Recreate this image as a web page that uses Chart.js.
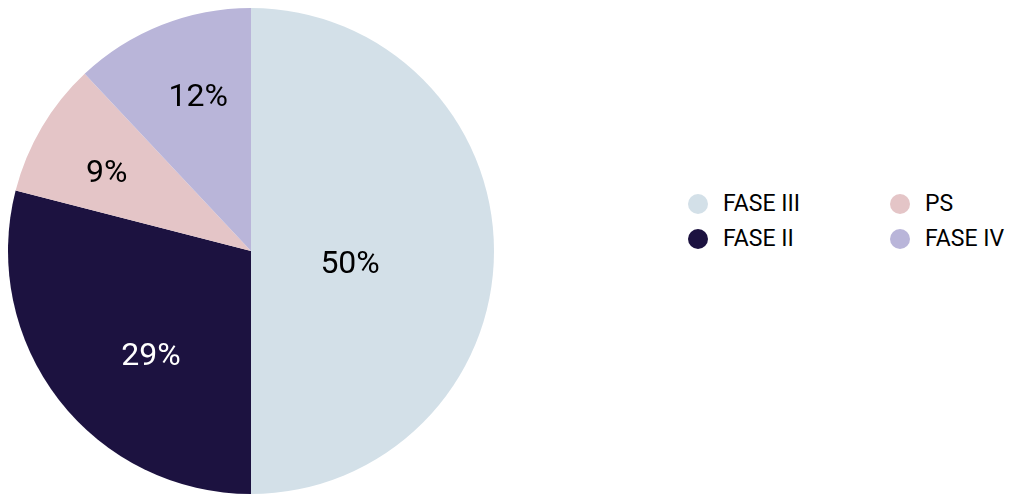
<!DOCTYPE html>
<html>
<head>
<meta charset="utf-8">
<script src="https://cdn.jsdelivr.net/npm/chart.js@4/dist/chart.umd.min.js"></script>
<style>
  html, body { margin: 0; padding: 0; background: #fff; overflow: hidden; width: 1011px; height: 495px; }
  #wrap { position: absolute; left: 0; top: 0; width: 502px; height: 502px; }
  #legend { position: absolute; left: 688px; top: 186px; display: grid; grid-template-columns: 202px 130px; grid-auto-flow: column; grid-template-rows: 35px 35px; font-family: Roboto, sans-serif; font-size: 23px; color: #000; }
  .item { display: flex; align-items: center; height: 35px; }
  .dot { width: 20px; height: 20px; border-radius: 50%; margin-right: 15px; flex: none; }
</style>
</head>
<body>
<div id="wrap"><canvas id="c"></canvas></div>
<div id="legend"></div>
<script>
const categories = ["FASE III", "FASE II", "PS", "FASE IV"];
const values = [50, 29, 9, 12];
const colors = ["#d3e0e8", "#1c1240", "#e4c5c7", "#b9b5d9"];
const labelColors = ["#000000", "#ffffff", "#000000", "#000000"];

const labelPlugin = {
  id: 'sliceLabels',
  afterDatasetsDraw(chart, args, opts) {
    const ctx = chart.ctx;
    const meta = chart.getDatasetMeta(0);
    ctx.save();
    ctx.font = opts.font;
    ctx.textAlign = 'center';
    ctx.textBaseline = 'alphabetic';
    meta.data.forEach((arc, i) => {
      const p = arc.getProps(['x', 'y', 'startAngle', 'endAngle', 'outerRadius'], true);
      const mid = (p.startAngle + p.endAngle) / 2 + opts.angleShift[i] * Math.PI / 180;
      const r = p.outerRadius * opts.radius[i];
      ctx.fillStyle = labelColors[i];
      ctx.fillText(values[i] + '%', p.x + Math.cos(mid) * r, p.y + Math.sin(mid) * r + opts.baselineShift);
    });
    ctx.restore();
  }
};

new Chart(document.getElementById('c'), {
  type: 'pie',
  data: {
    labels: categories,
    datasets: [{ data: values, backgroundColor: colors, borderWidth: 0 }]
  },
  options: {
    responsive: true,
    maintainAspectRatio: false,
    animation: false,
    layout: { padding: 8 },
    plugins: {
      legend: { display: false },
      tooltip: { enabled: false },
      sliceLabels: {
        font: '32px Roboto, sans-serif',
        baselineShift: 11.5,
        radius: [0.41, 0.59, 0.68, 0.68],
        angleShift: [6, -8, -1.5, 3]
      }
    }
  },
  plugins: [labelPlugin]
});

const legend = document.getElementById('legend');
categories.forEach((name, i) => {
  const item = document.createElement('div');
  item.className = 'item';
  const dot = document.createElement('span');
  dot.className = 'dot';
  dot.style.background = colors[i];
  const txt = document.createElement('span');
  txt.textContent = name;
  item.appendChild(dot);
  item.appendChild(txt);
  legend.appendChild(item);
});
</script>
</body>
</html>
